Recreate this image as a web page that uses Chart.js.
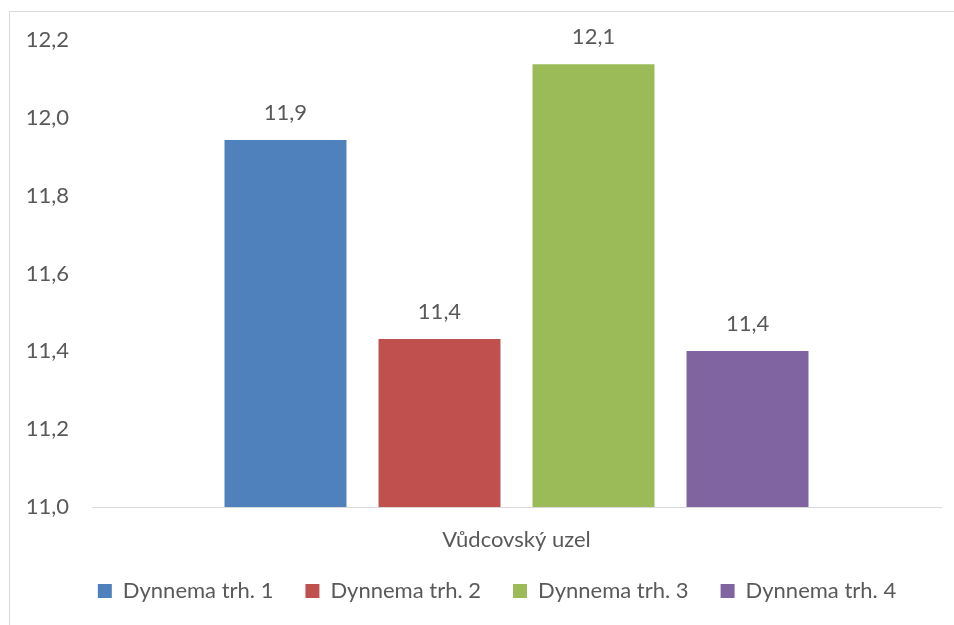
<!DOCTYPE html>
<html>
<head>
<meta charset="utf-8">
<script src="https://cdn.jsdelivr.net/npm/chart.js"></script>
<style>
  html, body { margin: 0; padding: 0; background: #fff; overflow: hidden; }
  #frame {
    position: absolute; left: 9px; top: 11px;
    width: 1100px; height: 800px;
    border: 1px solid #d9d9d9;
  }
  #wrap { position: absolute; left: 0; top: 0; width: 954px; height: 625px; }
</style>
</head>
<body>
<div id="frame"></div>
<div id="wrap"><canvas id="chart" width="954" height="625"></canvas></div>
<script>
// Chart values
const categories = ['Vůdcovský uzel'];
const seriesNames = ['Dynnema trh. 1', 'Dynnema trh. 2', 'Dynnema trh. 3', 'Dynnema trh. 4'];
const seriesValues = [[11.943], [11.432], [12.138], [11.401]];
const seriesColors = ['#4F81BD', '#C0504D', '#9BBB59', '#8064A2'];
const yTicks = [11.0, 11.2, 11.4, 11.6, 11.8, 12.0, 12.2];

const textColor = '#595959';
const fontFamily = 'Lato, "Open Sans", sans-serif';
const fontSize = 22;

function czNum(v) {
    return v.toFixed(1).replace('.', ',');
}

// draws value labels above every bar
const valueLabels = {
    id: 'valueLabels',
    afterDatasetsDraw(chart) {
        const ctx = chart.ctx;
        ctx.save();
        ctx.fillStyle = textColor;
        ctx.font = fontSize + 'px ' + fontFamily;
        ctx.textAlign = 'center';
        ctx.textBaseline = 'middle';
        chart.data.datasets.forEach((ds, i) => {
            const meta = chart.getDatasetMeta(i);
            meta.data.forEach((bar, j) => {
                ctx.fillText(czNum(ds.data[j]), bar.x, bar.y - 27);
            });
        });
        ctx.restore();
    }
};

// nudge the legend row so it sits where the original one does
const legendShift = {
    id: 'legendShift',
    afterLayout(chart) {
        const lg = chart.legend;
        if (!lg) return;
        const dx = 22, dy = -5;
        lg.left += dx; lg.right += dx;
        lg.top += dy; lg.bottom += dy;
    }
};

const datasets = seriesNames.map((name, i) => ({
    label: name,
    data: seriesValues[i],
    backgroundColor: seriesColors[i],
    borderWidth: 0,
    barPercentage: 0.792,
    categoryPercentage: 0.7256
}));

new Chart(document.getElementById('chart'), {
    type: 'bar',
    data: { labels: categories, datasets: datasets },
    options: {
        responsive: false,
        animation: false,
        layout: { padding: { left: 9, right: 13, top: 40, bottom: 8 } },
        scales: {
            x: {
                grid: { display: false },
                border: { display: true, color: '#d9d9d9', width: 1 },
                ticks: { color: textColor, font: { family: fontFamily, size: fontSize }, padding: 12 },
                afterFit(scale) { scale.height = 46; }
            },
            y: {
                min: yTicks[0],
                max: yTicks[yTicks.length - 1],
                grid: { display: false, drawTicks: false },
                border: { display: false },
                afterBuildTicks(scale) {
                    scale.ticks = yTicks.map(v => ({ value: v }));
                },
                ticks: {
                    color: textColor,
                    font: { family: fontFamily, size: fontSize },
                    padding: 23,
                    callback: v => czNum(v)
                },
                afterFit(scale) { scale.width = 83; }
            }
        },
        plugins: {
            legend: {
                position: 'bottom',
                labels: {
                    color: textColor,
                    font: { family: fontFamily, size: fontSize },
                    boxWidth: 14,
                    boxHeight: 14,
                    padding: 32
                }
            },
            tooltip: { enabled: false }
        }
    },
    plugins: [valueLabels, legendShift]
});
</script>
</body>
</html>
